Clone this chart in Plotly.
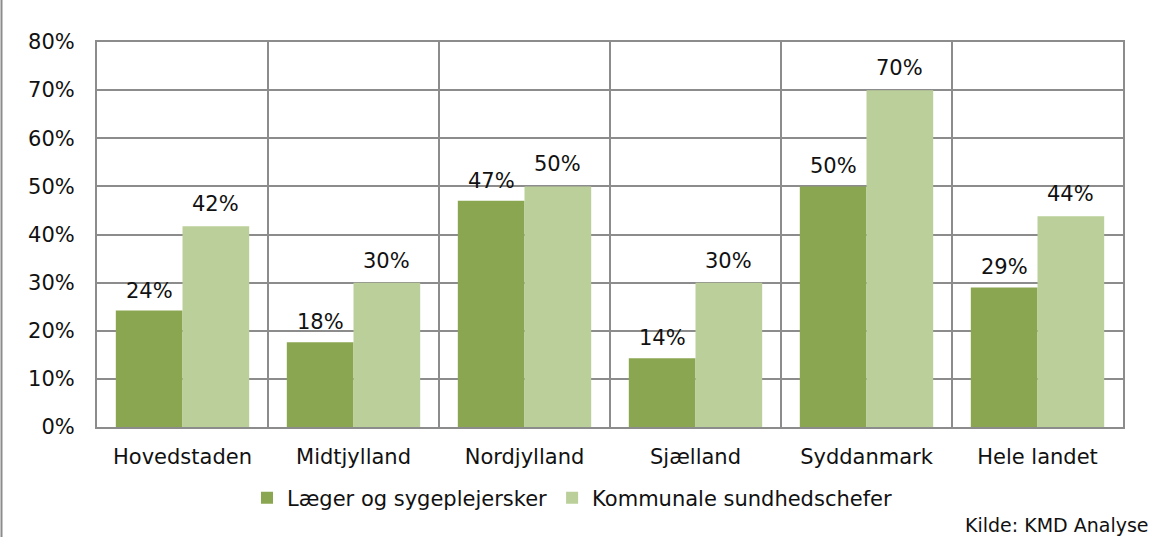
import plotly.graph_objects as go

categories = ["Hovedstaden", "Midtjylland", "Nordjylland", "Sjælland", "Syddanmark", "Hele landet"]
laeger = [24.2, 17.6, 47.0, 14.3, 50.0, 29.0]
kommunale = [41.7, 30.0, 50.0, 30.0, 70.0, 43.8]
laeger_labels = ["24%", "18%", "47%", "14%", "50%", "29%"]
kommunale_labels = ["42%", "30%", "50%", "30%", "70%", "44%"]
y_ticks = [0, 10, 20, 30, 40, 50, 60, 70, 80]
y_ticktext = [f"{v}%" for v in y_ticks]

FONT = "DejaVu Sans"
FS = 21
GRID = "#8c8c8c"
DARK = "#8ba650"
LIGHT = "#bacf99"

L, R, T, B = 97, 35, 42, 110
W, H = 1158, 537
pw = W - L - R
ph = H - T - B
BARGAP = 0.22
half_bar = pw / len(categories) * (1 - BARGAP) / 4

fig = go.Figure()
fig.add_trace(go.Bar(
    x=categories, y=laeger, name="Læger og sygeplejersker",
    marker=dict(color=DARK, line=dict(width=0)),
))
fig.add_trace(go.Bar(
    x=categories, y=kommunale, name="Kommunale sundhedschefer",
    marker=dict(color=LIGHT, line=dict(width=0)),
))

annotations = []
for cat, v, lab in zip(categories, laeger, laeger_labels):
    annotations.append(dict(x=cat, y=v, text=lab, xshift=-half_bar, yshift=20,
                            showarrow=False, yanchor="middle",
                            font=dict(family=FONT, size=FS, color="#111")))
for cat, v, lab in zip(categories, kommunale, kommunale_labels):
    annotations.append(dict(x=cat, y=v, text=lab, xshift=half_bar, yshift=22,
                            showarrow=False, yanchor="middle",
                            font=dict(family=FONT, size=FS, color="#111")))
annotations.append(dict(
    text="Kilde: KMD Analyse", xref="paper", yref="paper",
    x=(W - 7 - L) / pw, xanchor="right",
    y=-(525 - (H - B)) / ph, yanchor="middle",
    showarrow=False, font=dict(family=FONT, size=19, color="#111"),
))

fig.update_layout(
    width=W, height=H,
    margin=dict(l=L, r=R, t=T, b=B),
    paper_bgcolor="white", plot_bgcolor="white",
    barmode="group", bargap=BARGAP, bargroupgap=0,
    font=dict(family=FONT, size=FS, color="#111"),
    showlegend=True,
    legend=dict(orientation="h", x=(572 - L) / pw, xanchor="center",
                y=-(498 - (H - B)) / ph, yanchor="middle",
                font=dict(family=FONT, size=FS, color="#111"),
                traceorder="normal", itemwidth=30),
    xaxis=dict(
        type="category", tickson="boundaries", showgrid=True, gridcolor=GRID, gridwidth=1.5,
        showline=True, linecolor=GRID, linewidth=2, mirror=True, ticks="", ticklen=0,
        ticklabelstandoff=10,
        tickfont=dict(family=FONT, size=FS, color="#111"),
    ),
    yaxis=dict(
        range=[0, 80], tickvals=y_ticks, ticktext=y_ticktext,
        showgrid=True, gridcolor=GRID, gridwidth=1.5,
        showline=True, linecolor=GRID, linewidth=2, mirror=True, ticks="",
        ticklabelstandoff=16,
        zeroline=False, tickfont=dict(family=FONT, size=FS, color="#111"),
    ),
    annotations=annotations,
    shapes=[dict(
        type="line", xref="paper", yref="paper",
        x0=-(L - 1.5) / pw, x1=-(L - 1.5) / pw,
        y0=-B / ph, y1=1 + T / ph,
        line=dict(color="#8c8c8c", width=2),
    )],
)

fig.write_html("out.html", config={"displayModeBar": False},
               post_script="document.body.style.margin='0px';")
